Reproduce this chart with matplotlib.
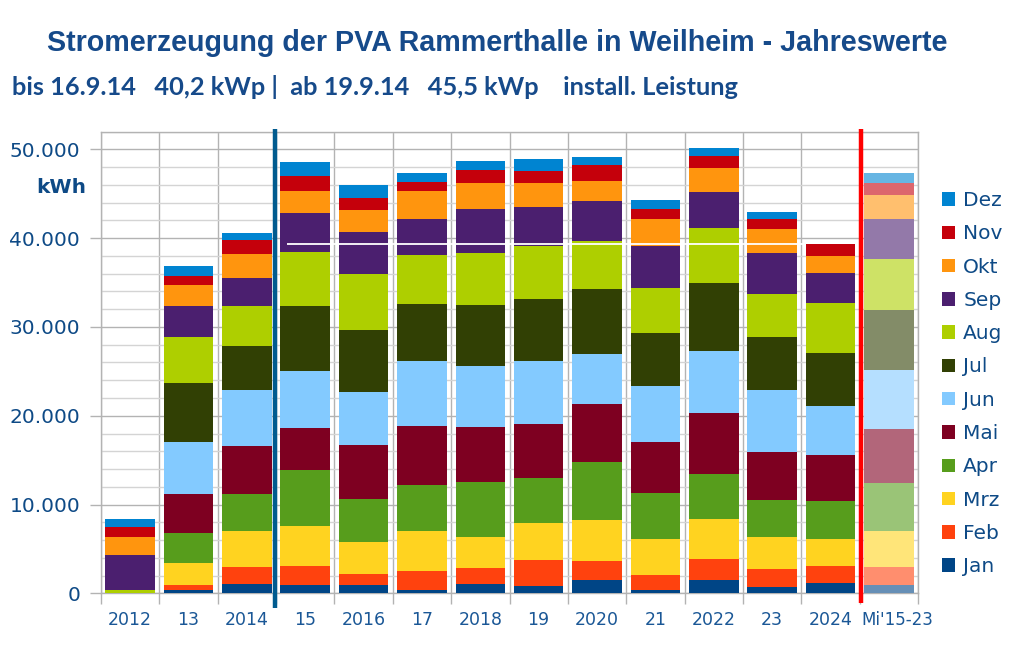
import matplotlib
matplotlib.use("Agg")
import matplotlib.pyplot as plt
from matplotlib.patches import Patch
from matplotlib.ticker import FuncFormatter, MultipleLocator, FixedLocator
import matplotlib.transforms as mtransforms
import numpy as np

categories = ['2012', '13', '2014', '15', '2016', '17', '2018', '19', '2020',
              '21', '2022', '23', '2024', "Mi'15-23"]
months = ['Jan', 'Feb', 'Mrz', 'Apr', 'Mai', 'Jun', 'Jul', 'Aug', 'Sep', 'Okt', 'Nov', 'Dez']

Jan = [0, 412, 1049, 974, 974, 337, 1086, 861, 1461, 337, 1461, 712, 1198, 899]
Feb = [0, 487, 1873, 2135, 1236, 2172, 1798, 2921, 2172, 1760, 2434, 2060, 1835, 2097]
Mrz = [0, 2472, 4045, 4494, 3595, 4494, 3483, 4157, 4569, 4007, 4494, 3558, 3108, 4045]
Apr = [0, 3445, 4232, 6254, 4794, 5168, 6179, 5093, 6591, 5206, 5056, 4232, 4269, 5430]
Mai = [0, 4344, 5355, 4794, 6104, 6629, 6217, 6029, 6554, 5730, 6816, 5355, 5206, 6029]
Jun = [0, 5880, 6367, 6441, 6029, 7378, 6816, 7153, 5618, 6367, 7041, 7003, 5468, 6666]
Jul = [0, 6666, 4943, 7265, 6891, 6367, 6891, 6966, 7265, 5955, 7602, 5955, 5955, 6779]
Aug = [375, 5168, 4457, 6142, 6292, 5618, 5880, 5955, 5468, 4981, 6292, 4794, 5618, 5693]
Sep = [3895, 3483, 3183, 4307, 4794, 4045, 4943, 4419, 4531, 4794, 3970, 4719, 3371, 4494]
Okt = [2097, 2359, 2734, 2472, 2434, 3071, 2959, 2659, 2247, 2996, 2696, 2622, 1947, 2734]
Nov = [1124, 974, 1610, 1760, 1348, 1086, 1461, 1386, 1723, 1124, 1423, 1161, 1348, 1386]
Dez = [861, 1236, 712, 1498, 1498, 936, 936, 1311, 936, 1049, 861, 824, 0, 1049]

series = [Jan, Feb, Mrz, Apr, Mai, Jun, Jul, Aug, Sep, Okt, Nov, Dez]
colors = ['#004586', '#ff420e', '#ffd320', '#579d1c', '#7e0021', '#83caff',
          '#314004', '#aecf00', '#4b1f6f', '#ff950e', '#c5000b', '#0084d1']

title = 'Stromerzeugung der PVA Rammerthalle in Weilheim - Jahreswerte'
subtitle = 'bis 16.9.14   40,2 kWp |  ab 19.9.14   45,5 kWp    install. Leistung'

W, H = 1016, 650
fig = plt.figure(figsize=(W / 100, H / 100), dpi=100)
ax = fig.add_axes([101 / W, 1 - 593.3 / H, (918 - 101) / W, (593.3 - 131.7) / H])

def lighten(c, a=0.6):
    rgb = np.array(matplotlib.colors.to_rgb(c))
    return tuple(rgb * a + (1 - a))

x = np.arange(len(categories))
bottom = np.zeros(len(categories))
n = len(categories)
for vals, col, name in zip(series, colors, months):
    vals = np.array(vals, dtype=float)
    cols = [col] * (n - 1) + [lighten(col)]
    ax.bar(x, vals, bottom=bottom, width=0.85, color=cols, label=name,
           linewidth=0, zorder=3)
    bottom += vals

totals = bottom
# white reference line at the 2024 level
ax.hlines(totals[12], 2.69, 11.58, color='white', lw=1.3, zorder=4)

ax.set_xlim(-0.5, n - 0.5)
ax.set_ylim(0, 52000)

ax.yaxis.set_major_locator(MultipleLocator(10000))
ax.yaxis.set_minor_locator(MultipleLocator(2000))
ax.yaxis.set_major_formatter(FuncFormatter(lambda v, p: f'{int(v):,}'.replace(',', '.')))
ax.grid(which='major', axis='y', color='#b3b3b3', lw=1.0, zorder=0)
ax.grid(which='minor', axis='y', color='#d4d4d4', lw=1.0, zorder=0)

ax.xaxis.set_major_locator(FixedLocator(np.arange(-0.5, n, 1.0)))
ax.xaxis.set_minor_locator(FixedLocator(x))
ax.xaxis.set_major_formatter(FuncFormatter(lambda v, p: ''))
ax.xaxis.set_minor_formatter(FuncFormatter(lambda v, p: categories[int(round(v))]))
ax.grid(which='major', axis='x', color='#b3b3b3', lw=1.0, zorder=0)
ax.tick_params(axis='x', which='major', length=8, color='#b3b3b3', width=1)
ax.tick_params(axis='x', which='minor', length=0, pad=13, labelsize=12.5,
               labelcolor='#1a5796')
ax.tick_params(axis='y', which='major', length=8, color='#b3b3b3', width=1,
               pad=7, labelsize=14.5, labelcolor='#0e4a86')
ax.tick_params(axis='y', which='minor', length=0)
for s in ax.spines.values():
    s.set_color('#b3b3b3')
    s.set_linewidth(1.0)

fig.canvas.draw()
xlabels = ax.get_xticklabels(minor=True)
for lab in xlabels + ax.get_yticklabels():
    lab.set_fontfamily('DejaVu Sans')
last = xlabels[-1]
last.set_fontsize(12)
last.set_transform(last.get_transform() +
                   mtransforms.ScaledTranslation(8 / 100, 0, fig.dpi_scale_trans))

# separators
ax.vlines(2.49, -1700, 52300, color='#005b8f', lw=3.2, zorder=6, clip_on=False)
ax.vlines(12.53, -1100, 52300, color='#ff0000', lw=3.2, zorder=6, clip_on=False)

fig.text(86 / W, 1 - 188 / H, 'kWh', ha='right', va='center', fontsize=14.5,
         fontweight='bold', color='#0e4a86', family='DejaVu Sans')

fig.text(497 / W, 1 - 43 / H, title, ha='center', va='center', fontsize=20.6,
         fontweight='bold', color='#164a8a', family='Liberation Sans')
fig.text(12 / W, 1 - 87 / H, subtitle, ha='left', va='center', fontsize=18.3,
         fontweight='bold', color='#164a8a', family='Lato')

handles = [Patch(facecolor=c, edgecolor='none') for c in colors][::-1]
leg = fig.legend(handles, months[::-1], loc='upper left',
                 bbox_to_anchor=(942 / W, 1 - 191 / H), frameon=False,
                 fontsize=14.5, labelcolor='#0e4a86', handlelength=0.65,
                 handleheight=0.65, handletextpad=0.4, labelspacing=0.71,
                 borderpad=0, borderaxespad=0)

fig.savefig('out.png', dpi=100)
